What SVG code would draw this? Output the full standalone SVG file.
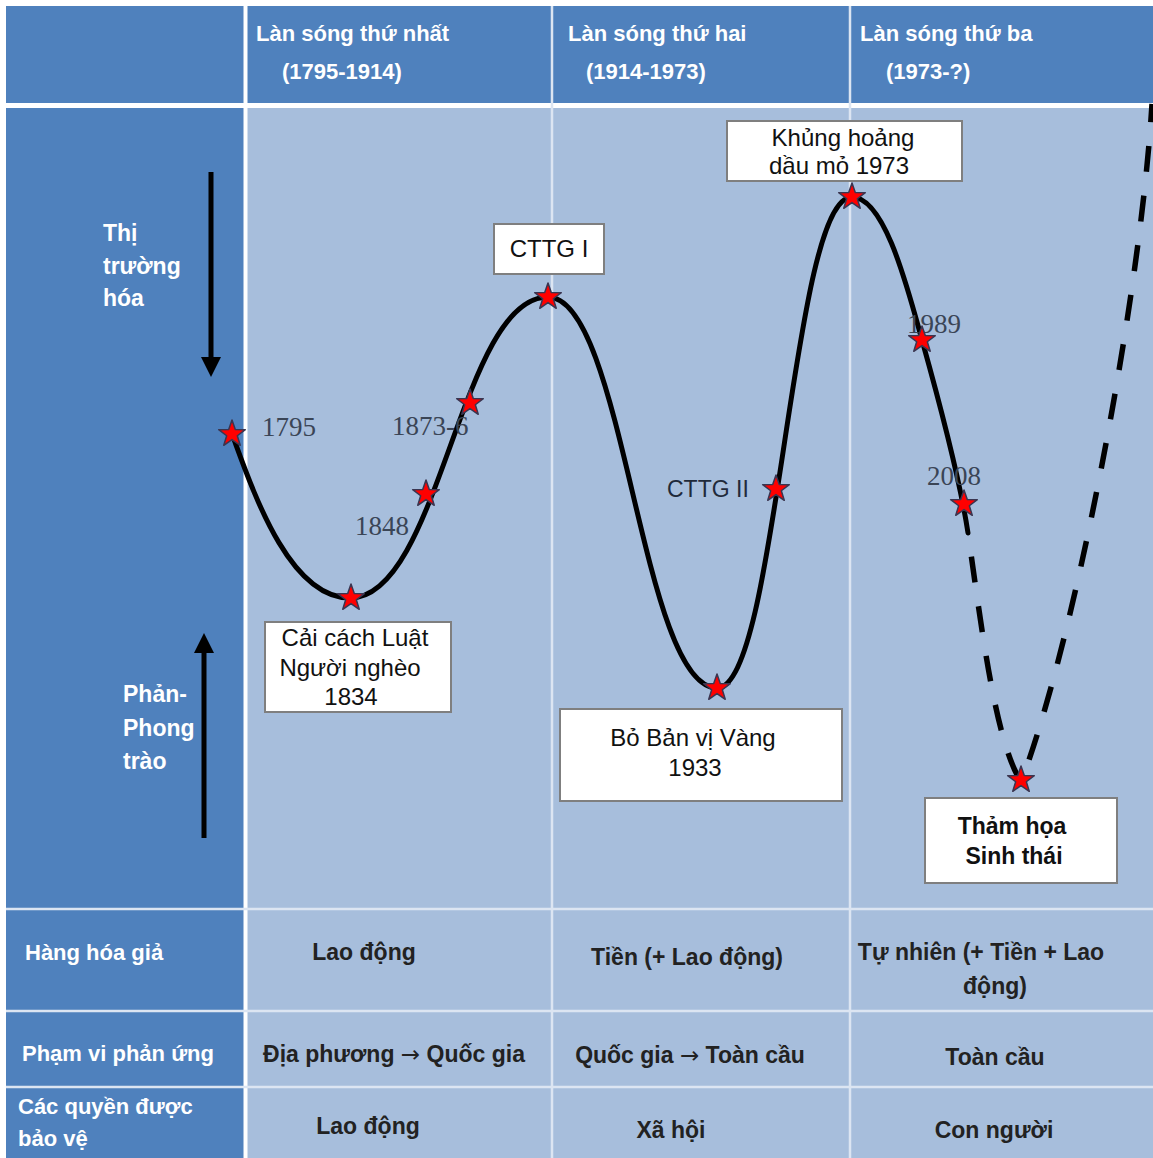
<svg xmlns="http://www.w3.org/2000/svg" width="1153" height="1158" viewBox="0 0 1153 1158">
<defs>
<style>
.dark{fill:#4F81BD}
.light{fill:#A7BEDC}
.sep{stroke:#DCE5F2;stroke-width:2.5;fill:none}
.hd{font-family:"Liberation Sans",Arial,sans-serif;font-weight:bold;font-size:22px;fill:#FFFFFF}
.hy{font-family:"Liberation Sans",Arial,sans-serif;font-weight:bold;font-size:22px;fill:#FFFFFF}
.side{font-family:"Liberation Sans",Arial,sans-serif;font-weight:bold;font-size:23px;fill:#FFFFFF}
.rowh{font-family:"Liberation Sans",Arial,sans-serif;font-weight:bold;font-size:22px;fill:#FFFFFF}
.cell{font-family:"Liberation Sans",Arial,sans-serif;font-weight:bold;font-size:23px;fill:#222222;text-anchor:middle}
.ar{font-family:"DejaVu Sans",sans-serif;font-weight:normal}
.box{fill:#FFFFFF;stroke:#7F7F7F;stroke-width:2}
.bt{font-family:"Liberation Sans",Arial,sans-serif;font-size:24px;fill:#111111;text-anchor:middle}
.btb{font-family:"Liberation Sans",Arial,sans-serif;font-weight:bold;font-size:23px;fill:#111111;text-anchor:middle}
.yr{font-family:"Liberation Serif","Times New Roman",serif;font-size:27px;fill:#3A4556}
.wave{fill:none;stroke:#000000;stroke-width:5;stroke-linecap:round}
.dash{fill:none;stroke:#000000;stroke-width:5.5;stroke-dasharray:26 24}
.arr{stroke:#000000;stroke-width:5;fill:none}
.star{fill:#FF0000;stroke:#3A3550;stroke-width:1.5;stroke-linejoin:round}
</style>
<polygon id="star" class="star" points="0,-14 3.29,-4.53 13.31,-4.33 5.33,1.73 8.23,11.33 0,5.6 -8.23,11.33 -5.33,1.73 -13.31,-4.33 -3.29,-4.53"/>
<marker id="ah" viewBox="0 0 20 20" refX="4" refY="10" markerWidth="20" markerHeight="20" markerUnits="userSpaceOnUse" orient="auto">
<path d="M0,0 L20,10 L0,20 Z" fill="#000000"/>
</marker>
</defs>

<g id="background">
<rect x="0" y="0" width="1153" height="1158" fill="#FFFFFF"/>
<rect x="6" y="6" width="1147" height="98" class="dark"/>
<rect x="6" y="107" width="1147" height="1051" class="light"/>
<rect x="6" y="107" width="238" height="1051" class="dark"/>
<line x1="6" y1="105.5" x2="1153" y2="105.5" stroke="#FFFFFF" stroke-width="5"/>
<line x1="245.5" y1="6" x2="245.5" y2="1158" stroke="#FFFFFF" stroke-width="4"/>
<line x1="552" y1="6" x2="552" y2="1158" class="sep"/>
<line x1="850" y1="6" x2="850" y2="1158" class="sep"/>
<line x1="6" y1="909" x2="1153" y2="909" class="sep" stroke-width="3"/>
<line x1="6" y1="1011" x2="1153" y2="1011" class="sep" stroke-width="3"/>
<line x1="6" y1="1087" x2="1153" y2="1087" class="sep" stroke-width="3"/>
</g>

<g id="header">
<g id="wave1-head"><text class="hd" x="256" y="41">Làn sóng thứ nhất</text><text class="hy" x="282" y="79">(1795-1914)</text></g>
<g id="wave2-head"><text class="hd" x="568" y="41">Làn sóng thứ hai</text><text class="hy" x="586" y="79">(1914-1973)</text></g>
<g id="wave3-head"><text class="hd" x="860" y="41">Làn sóng thứ ba</text><text class="hy" x="886" y="79">(1973-?)</text></g>
</g>

<g id="side-labels">
<g id="thi-truong-hoa"><text class="side" x="103" y="241">Thị</text><text class="side" x="103" y="274">trường</text><text class="side" x="103" y="306">hóa</text></g>
<g id="phan-phong-trao"><text class="side" x="123" y="702">Phản-</text><text class="side" x="123" y="736">Phong</text><text class="side" x="123" y="769">trào</text></g>
</g>

<g id="connectors">
<line class="arr" x1="211" y1="172" x2="211" y2="361" marker-end="url(#ah)"/>
<line class="arr" x1="204" y1="838" x2="204" y2="649" marker-end="url(#ah)"/>
<path class="wave" d="M232,434 C252,488 288,598 350,598 C440,598 460,297 548,297 C624,297 641,688 717,688 C778,688 791,197 852,197 C885,197 908,290 922,340 S960,480 968,533"/>
<path class="dash" stroke-dashoffset="26" d="M968,533 C982,630 995,740 1021,782 M1021,782 C1075,640 1140,300 1152,104"/>
</g>

<g id="year-labels">
<text class="yr" x="262" y="436">1795</text>
<text class="yr" x="355" y="535">1848</text>
<text class="yr" x="392" y="435">1873-6</text>
<text class="yr" x="907" y="333">1989</text>
<text class="yr" x="927" y="485">2008</text>
<text x="667" y="497" font-family="Liberation Sans, Arial, sans-serif" font-size="23" fill="#1F2A3A">CTTG II</text>
</g>

<g id="event-boxes">
<g id="cttg1"><rect class="box" x="494" y="224" width="110" height="50"/><text class="bt" x="549" y="257">CTTG I</text></g>
<g id="khung-hoang"><rect class="box" x="727" y="121" width="235" height="60"/><text class="bt" x="843" y="146">Khủng hoảng</text><text class="bt" x="839" y="174">dầu mỏ 1973</text></g>
<g id="cai-cach"><rect class="box" x="265" y="622" width="186" height="90"/><text class="bt" x="355" y="646">Cải cách Luật</text><text class="bt" x="350" y="676">Người nghèo</text><text class="bt" x="351" y="705">1834</text></g>
<g id="bo-ban-vi"><rect class="box" x="560" y="709" width="282" height="92"/><text class="bt" x="693" y="746">Bỏ Bản vị Vàng</text><text class="bt" x="695" y="776">1933</text></g>
<g id="tham-hoa"><rect class="box" x="925" y="798" width="192" height="85"/><text class="btb" x="1012" y="834">Thảm họa</text><text class="btb" x="1014" y="864">Sinh thái</text></g>
</g>

<g id="stars">
<use href="#star" x="232" y="434"/>
<use href="#star" x="351" y="598"/>
<use href="#star" x="426" y="494"/>
<use href="#star" x="470" y="403"/>
<use href="#star" x="548" y="297"/>
<use href="#star" x="717" y="688"/>
<use href="#star" x="776" y="489"/>
<use href="#star" x="852" y="197"/>
<use href="#star" x="922" y="340"/>
<use href="#star" x="964" y="504"/>
<use href="#star" x="1021" y="780"/>
</g>

<g id="table">
<g id="row-hang-hoa"><text class="rowh" x="25" y="960">Hàng hóa giả</text><text class="cell" x="364" y="960">Lao động</text><text class="cell" x="687" y="965">Tiền (+ Lao động)</text><text class="cell" x="981" y="960">Tự nhiên (+ Tiền + Lao</text><text class="cell" x="995" y="994">động)</text></g>
<g id="row-pham-vi"><text class="rowh" x="22" y="1061">Phạm vi phản ứng</text><text class="cell" x="394" y="1062">Địa phương <tspan class="ar">→</tspan> Quốc gia</text><text class="cell" x="690" y="1063">Quốc gia <tspan class="ar">→</tspan> Toàn cầu</text><text class="cell" x="995" y="1065">Toàn cầu</text></g>
<g id="row-quyen"><text class="rowh" x="18" y="1114">Các quyền được</text><text class="rowh" x="18" y="1146">bảo vệ</text><text class="cell" x="368" y="1134">Lao động</text><text class="cell" x="671" y="1138">Xã hội</text><text class="cell" x="994" y="1138">Con người</text></g>
</g>
</svg>
